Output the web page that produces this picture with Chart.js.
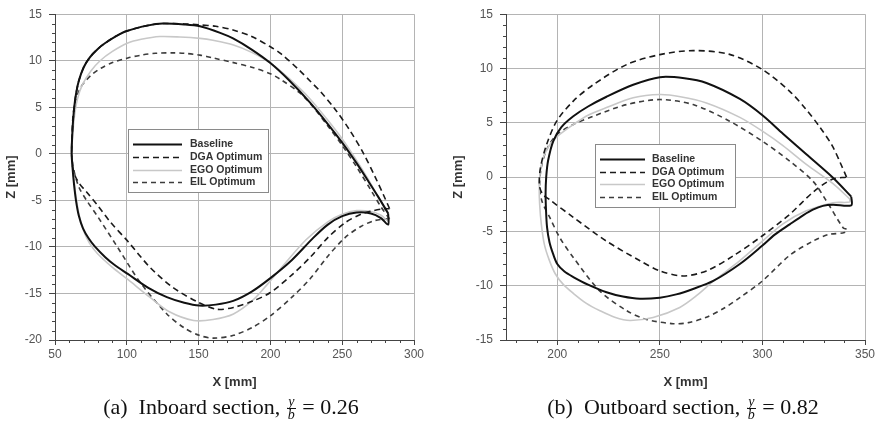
<!DOCTYPE html>
<html><head><meta charset="utf-8">
<script src="https://cdn.jsdelivr.net/npm/chart.js@4.4.0/dist/chart.umd.min.js"></script>
<style>
html,body{margin:0;padding:0;background:#fff;}
#wrap{position:relative;width:880px;height:434px;overflow:hidden;background:#fff;}
canvas{position:absolute;top:0;}
.cap{position:absolute;top:394px;width:420px;text-align:center;font-family:"Liberation Serif","Times New Roman",serif;font-size:22px;line-height:26px;color:#111;white-space:nowrap;}
.frac{display:inline-block;vertical-align:middle;text-align:center;font-style:italic;font-size:14px;line-height:12px;margin:0 1px;}
.frac span{display:block;padding:0 1px;}
.frac .num{border-bottom:1px solid #111;}
</style></head>
<body><div id="wrap">
<canvas id="c1" width="440" height="395" style="left:0"></canvas>
<canvas id="c2" width="440" height="395" style="left:440px"></canvas>
<div class="cap" style="left:21px">(a)&ensp;Inboard section, <span class="frac"><span class="num">y</span><span>b</span></span> = 0.26</div>
<div class="cap" style="left:473px">(b)&ensp;Outboard section, <span class="frac"><span class="num">y</span><span>b</span></span> = 0.82</div>
</div>
<script>
// ---- series labels ----
const seriesLabels = ['Baseline', 'DGA Optimum', 'EGO Optimum', 'EIL Optimum'];

// ---- tick values ----
const inXTicks = [50, 100, 150, 200, 250, 300];
const inZTicks = [-20, -15, -10, -5, 0, 5, 10, 15];
const outXTicks = [200, 250, 300, 350];
const outZTicks = [-15, -10, -5, 0, 5, 10, 15];

// ---- (a) Inboard section, closed profiles: upper TE -> LE -> lower TE ----
const inBaseX = [282, 275, 268, 260, 250, 240, 227, 213, 200, 187, 174, 165, 151, 140, 125, 115, 100, 92, 85, 80, 74.4, 70, 66.5, 64.2, 62.8, 62, 61.6, 62.2, 63.2, 64.6, 66.5, 69.5, 73.5, 78, 85, 92, 100.7, 115, 127.9, 140, 150.4, 162, 174.1, 187, 200, 215, 230, 240, 250, 260, 270, 277, 282, 282];
const inBaseZ = [-6.4, -4.6, -2.9, -1.0, 1.2, 3.2, 5.6, 7.9, 9.75, 11.2, 12.4, 13.0, 13.7, 13.9, 14.0, 13.8, 13.2, 12.6, 11.9, 11.3, 10.4, 9.3, 7.8, 6.0, 4.0, 2.0, 0.0, -1.5, -3.2, -5.0, -6.6, -8.0, -9.1, -10.0, -11.1, -12.0, -12.9, -14.4, -15.4, -16.0, -16.3, -16.2, -15.8, -14.8, -13.35, -11.4, -9.0, -7.6, -6.7, -6.3, -6.4, -6.9, -7.6, -6.4];

const inDgaX = [283, 279, 273, 265, 255, 245, 234.8, 227.8, 220, 207, 200, 187, 174, 162, 151, 140, 125, 115, 100, 92, 85, 80, 74.4, 70, 66.5, 64.2, 62.8, 62, 61.6, 62.2, 63.8, 67, 72, 80, 88.4, 100.7, 116.2, 132.5, 150.4, 162.7, 174.3, 188, 200, 215, 227.8, 240, 252, 263, 272, 279, 283];
const inDgaZ = [-5.9, -4.5, -2.5, 0.0, 2.6, 4.8, 6.7, 7.8, 9.0, 10.8, 11.5, 12.6, 13.3, 13.7, 13.85, 13.95, 14.0, 13.8, 13.2, 12.6, 11.9, 11.3, 10.4, 9.3, 7.8, 6.0, 4.0, 2.0, 0.0, -1.3, -2.3, -3.2, -4.1, -5.6, -7.3, -9.4, -12.2, -14.4, -16.0, -16.7, -16.5, -15.8, -14.9, -13.0, -11.1, -9.0, -7.4, -6.5, -6.1, -5.9, -5.9];

const inEgoX = [282, 275, 268, 260, 250, 240, 227, 213, 200, 187, 174.3, 160, 151, 137, 123, 110, 100.7, 90, 81.4, 75, 69, 65.5, 63.5, 62.3, 61.6, 62.4, 63.5, 65, 67, 70, 74, 79.5, 90, 100.7, 116, 130, 146.5, 160, 174.3, 188, 198, 210, 225, 240, 250, 260, 270, 277, 282, 282];
const inEgoZ = [-6.4, -4.6, -2.7, -0.7, 1.6, 3.6, 6.0, 8.1, 9.75, 10.9, 11.7, 12.2, 12.4, 12.55, 12.6, 12.3, 11.9, 11.0, 10.0, 8.9, 7.4, 5.8, 4.0, 2.0, 0.0, -1.5, -3.2, -5.0, -6.7, -8.3, -9.6, -10.7, -12.2, -13.5, -15.4, -17.0, -17.9, -17.8, -17.2, -15.7, -14.0, -11.8, -9.2, -7.3, -6.5, -6.1, -6.2, -6.6, -7.2, -6.4];

const inEilX = [283, 277, 270, 260, 250, 240, 227.8, 220, 207, 200, 187, 174.3, 160, 151, 140, 132.5, 120, 110, 100.7, 90, 82, 75.6, 70.5, 67.4, 64.5, 62.7, 61.9, 61.6, 62.5, 64, 67, 72, 80, 93, 109.3, 127.9, 140, 150.4, 160.4, 174.3, 188, 200, 215, 227.8, 240, 252, 263, 272, 279, 283];
const inEilZ = [-7.0, -5.7, -3.9, -1.4, 0.9, 3.0, 5.4, 6.6, 8.0, 8.6, 9.3, 9.8, 10.3, 10.6, 10.8, 10.85, 10.8, 10.6, 10.3, 9.8, 9.2, 8.5, 7.7, 7.0, 5.8, 4.3, 2.2, 0.0, -1.2, -2.3, -3.7, -5.0, -6.8, -9.9, -13.8, -17.2, -18.7, -19.5, -19.8, -19.5, -18.6, -17.4, -15.4, -13.4, -11.0, -9.0, -7.8, -7.2, -7.0, -7.0];

// ---- (b) Outboard section ----
const outBaseX = [343.3, 334.4, 321.4, 310, 300, 289, 272.7, 262, 250, 237, 224, 215, 207.8, 202, 198, 195.5, 194.6, 194.3, 194.5, 195, 196.2, 198, 200, 203.5, 207.8, 215, 224, 232, 240.3, 250, 258, 266.2, 276, 289, 300, 306, 313.3, 320, 324.6, 329.5, 334.4, 343.3, 343.3];
const outBaseZ = [-1.8, -0.06, 2.1, 4.0, 5.7, 7.2, 8.67, 9.1, 9.2, 8.5, 7.4, 6.5, 5.6, 4.6, 3.3, 1.5, 0.0, -1.5, -3.0, -4.6, -6.0, -7.1, -8.0, -8.7, -9.2, -9.9, -10.6, -11.0, -11.2, -11.1, -10.8, -10.3, -9.56, -8.0, -6.3, -5.3, -4.35, -3.5, -3.0, -2.65, -2.55, -2.6, -1.8];

const outDgaX = [341, 338, 334, 328, 321, 313.3, 300, 284, 266.2, 250, 233.8, 217.5, 207.8, 199.7, 194.8, 191.8, 191.3, 193, 196.4, 207.8, 224, 240.3, 250, 261.3, 272.7, 285.7, 300, 313.3, 324.6, 334, 341];
const outDgaZ = [0.0, 1.3, 2.9, 4.6, 6.3, 7.9, 9.9, 11.3, 11.65, 11.28, 10.36, 8.5, 7.0, 5.15, 3.0, 0.86, -0.8, -1.6, -2.1, -3.7, -5.9, -7.7, -8.64, -9.1, -8.64, -7.26, -5.4, -3.43, -1.4, -0.2, 0.0];

const outEgoX = [342.5, 334.4, 321.4, 310, 300, 289, 272.7, 260, 250, 237, 224, 215, 207.8, 201, 196.4, 193.2, 191.6, 191.2, 191.4, 192.2, 193.7, 196, 199, 203, 207.8, 214, 220.8, 228, 235.4, 246.7, 259.7, 268, 276, 289, 300, 310, 321.4, 334.4, 342.5, 342.5];
const outEgoZ = [-2.0, -0.6, 1.17, 2.9, 4.23, 5.5, 6.83, 7.4, 7.6, 7.3, 6.4, 5.7, 4.84, 3.9, 3.0, 1.8, 0.3, -1.0, -2.5, -4.3, -6.2, -7.6, -8.9, -9.9, -10.7, -11.6, -12.3, -12.9, -13.2, -12.93, -12.0, -10.9, -9.6, -7.7, -5.9, -4.3, -3.1, -2.36, -2.3, -2.0];

const outEilX = [341, 339.3, 331.2, 324.6, 313.3, 300, 284, 266.2, 250, 233.8, 217.5, 207.8, 199.7, 195, 192.3, 191.4, 192.5, 196.4, 201.3, 207.8, 220.8, 233.8, 243.5, 256.5, 264, 272.7, 281, 289, 300, 313.3, 324.6, 332, 340, 341];
const outEilZ = [-4.8, -4.66, -2.2, -0.37, 1.47, 3.3, 5.15, 6.68, 7.14, 6.68, 5.6, 4.84, 3.9, 2.6, 1.0, -0.8, -2.2, -3.74, -5.6, -7.4, -10.5, -12.3, -13.1, -13.5, -13.4, -12.9, -12.1, -11.1, -9.56, -7.2, -5.9, -5.3, -5.1, -4.8];

// ---- helpers ----
const zip = (xs, zs) => xs.map((x, i) => ({x: x, y: zs[i]}));
const styles = [
  {borderColor: '#111111', borderWidth: 2, borderDash: []},
  {borderColor: '#1a1a1a', borderWidth: 1.6, borderDash: [6, 4]},
  {borderColor: '#c8c8c8', borderWidth: 1.6, borderDash: []},
  {borderColor: '#3c3c3c', borderWidth: 1.6, borderDash: [5, 4]}
];
function makeDatasets(pairs) {
  return pairs.map((p, i) => Object.assign({
    label: seriesLabels[i], data: zip(p[0], p[1]), showLine: true,
    pointRadius: 0, tension: 0.3, fill: false
  }, styles[i]));
}

const boxLegend = {
  id: 'boxLegend',
  afterDatasetsDraw(chart, args, o) {
    const {ctx, chartArea: a} = chart;
    const x0 = Math.round(a.left + o.dx), y0 = Math.round(a.top + o.dy);
    ctx.save();
    ctx.fillStyle = '#fff'; ctx.fillRect(x0, y0, o.w, o.h);
    ctx.strokeStyle = '#8a8a8a'; ctx.lineWidth = 1; ctx.strokeRect(x0 + 0.5, y0 + 0.5, o.w, o.h);
    ctx.font = 'bold 10.5px "Liberation Sans", Arial, sans-serif';
    ctx.textBaseline = 'middle';
    chart.data.datasets.forEach((ds, i) => {
      const y = Math.round(y0 + o.row0 + i * o.rowH) + 0.5;
      ctx.beginPath(); ctx.setLineDash(ds.borderDash || []);
      ctx.strokeStyle = ds.borderColor; ctx.lineWidth = ds.borderWidth;
      ctx.moveTo(x0 + o.lx0, y); ctx.lineTo(x0 + o.lx1, y); ctx.stroke();
      ctx.setLineDash([]);
      ctx.fillStyle = '#333'; ctx.fillText(ds.label, x0 + o.tx, y);
    });
    ctx.restore();
  }
};

const minorTicks = {
  id: 'minorTicks',
  afterDraw(chart, args, o) {
    const {ctx} = chart; const xs = chart.scales.x, ys = chart.scales.y;
    const isMajor = (v, m) => Math.abs(v / m - Math.round(v / m)) < 1e-6;
    ctx.save(); ctx.strokeStyle = '#444'; ctx.lineWidth = 1; ctx.beginPath();
    for (let v = o.xStart; v <= xs.max + 1e-9; v += o.xStep) {
      if (isMajor(v, o.xMajor)) continue;
      const p = Math.round(xs.getPixelForValue(v)) + 0.5;
      ctx.moveTo(p, xs.top); ctx.lineTo(p, xs.top + o.len);
    }
    for (let v = ys.min; v <= ys.max + 1e-9; v += o.yStep) {
      if (isMajor(v, o.yMajor)) continue;
      const p = Math.round(ys.getPixelForValue(v)) + 0.5;
      ctx.moveTo(ys.right - o.len, p); ctx.lineTo(ys.right, p);
    }
    ctx.stroke(); ctx.restore();
  }
};

const tickFont = {family: '"Liberation Sans", Arial, sans-serif', size: 12};
const titleFont = {family: '"Liberation Sans", Arial, sans-serif', size: 13, weight: 'bold'};

function makeChart(id, pairs, cfg) {
  return new Chart(document.getElementById(id), {
    type: 'scatter',
    data: {datasets: makeDatasets(pairs)},
    plugins: [boxLegend, minorTicks],
    options: {
      responsive: false, animation: false, devicePixelRatio: 1,
      layout: {padding: {left: 0, right: cfg.padRight, top: 13, bottom: 0}},
      plugins: {
        legend: {display: false}, tooltip: {enabled: false},
        boxLegend: cfg.legend,
        minorTicks: cfg.minor
      },
      scales: {
        x: {
          type: 'linear', min: cfg.xMin, max: cfg.xMax,
          afterBuildTicks: s => { s.ticks = cfg.xTicks.map(v => ({value: v})); },
          afterFit: s => { s.height = 55; },
          grid: {color: '#b4b4b4', tickColor: '#444', tickLength: 5, lineWidth: 1},
          border: {display: true, color: '#444', width: 1},
          ticks: {font: tickFont, color: '#555', padding: 2, maxRotation: 0},
          title: {display: true, text: 'X [mm]', font: titleFont, color: '#333', padding: {top: 0, bottom: 5}}
        },
        y: {
          type: 'linear', min: cfg.yMin, max: cfg.yMax,
          afterBuildTicks: s => { s.ticks = cfg.yTicks.map(v => ({value: v})); },
          afterFit: s => { s.width = cfg.yWidth; },
          grid: {color: '#b4b4b4', tickColor: '#444', tickLength: 6, lineWidth: 1},
          border: {display: true, color: '#444', width: 1},
          ticks: {font: tickFont, color: '#555', padding: 7},
          title: {display: true, text: 'Z [mm]', font: titleFont, color: '#333', padding: {top: cfg.yTitlePad, bottom: 0}}
        }
      }
    }
  });
}

makeChart('c1',
  [[inBaseX, inBaseZ], [inDgaX, inDgaZ], [inEgoX, inEgoZ], [inEilX, inEilZ]],
  {xMin: 50, xMax: 300, yMin: -20, yMax: 15, xTicks: inXTicks, yTicks: inZTicks,
   yWidth: 55, padRight: 26, yTitlePad: 4,
   legend: {dx: 73, dy: 115, w: 140, h: 63, row0: 15, rowH: 12.8, lx0: 5, lx1: 54, tx: 62},
   minor: {xStart: 50, xStep: 10, xMajor: 50, yStep: 1, yMajor: 5, len: 3}});

makeChart('c2',
  [[outBaseX, outBaseZ], [outDgaX, outDgaZ], [outEgoX, outEgoZ], [outEilX, outEilZ]],
  {xMin: 175, xMax: 350, yMin: -15, yMax: 15, xTicks: outXTicks, yTicks: outZTicks,
   yWidth: 66, padRight: 15, yTitlePad: 11,
   legend: {dx: 89, dy: 130, w: 140, h: 63, row0: 15, rowH: 12.6, lx0: 5, lx1: 50, tx: 57},
   minor: {xStart: 180, xStep: 10, xMajor: 50, yStep: 1, yMajor: 5, len: 3}});
</script>
</body></html>
